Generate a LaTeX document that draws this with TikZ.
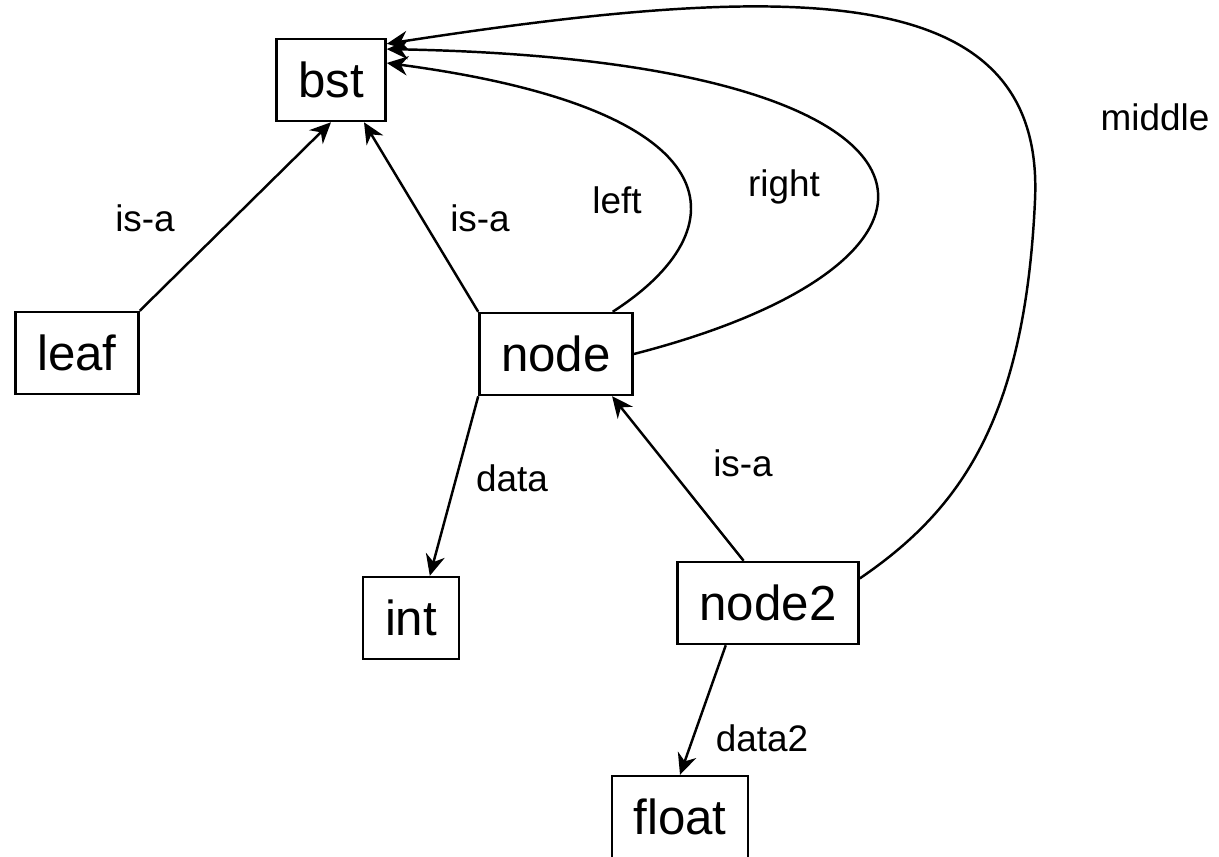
\documentclass[tikz,border=0pt]{standalone}
\usepackage{fontspec}
\setmainfont{Liberation Sans}
\usetikzlibrary{positioning,arrows.meta}

\begin{document}
\begin{tikzpicture}[x=0.01cm, y=-0.01cm,
    box/.style={draw, line width=0.7pt, minimum height=0.82cm, inner sep=0pt, font=\fontsize{14}{16}\selectfont},
    link/.style={draw, line width=0.7pt, -{Stealth[length=6pt, width=5.5pt]}},
    lbl/.style={font=\fontsize{10.5}{12}\selectfont}]

    \useasboundingbox (0,0) rectangle (1219,856);

    % the boxes
    \node[box, minimum width=1.09cm] (bst) at (331,80) {bst};
    \node[box, minimum width=1.23cm] (leaf) at (77,353) {leaf};
    \node[box, minimum width=1.53cm] (node1) at (556,354) {node};
    \node[box, minimum width=0.96cm] (int) at (411,618) {int};
    \node[box, minimum width=1.81cm] (node2) at (768,603) {node2};
    \node[box, minimum width=1.36cm] (float) at (680,817) {float};

    % straight links
    \path[link] (leaf.north east) -- (bst.south);
    \path[link] (node1.north west) -- (bst.-52);
    \path[link] (node1.south west) -- (int.66);
    \path[link] (node2.120) -- (node1.-37);
    \path[link] (node2.-135) -- (float.north);

    % curved links back to bst
    \path[link] ([xshift=-6pt]node1.north east) .. controls (740,230) and (740,110) .. (bst.17);
    \path[link] (node1.east) .. controls (1000,260) and (980,60) .. (bst.29);
    \path[link] (node2.15) .. controls (960,510) and (1025,420) .. (1035,200)
        .. controls (1045,-20) and (800,-20) .. (bst.33);

    % labels
    \node[lbl] (lisa1) at (145,218) {is-a};
    \node[lbl] (lisa2) at (480,218) {is-a};
    \node[lbl] (lleft) at (617,200) {left};
    \node[lbl] (lright) at (784,187) {right};
    \node[lbl] (lmiddle) at (1155,117) {middle};
    \node[lbl] (ldata) at (512,478) {data};
    \node[lbl] (lisa3) at (743,463) {is-a};
    \node[lbl] (ldata2) at (762,738) {data2};

\end{tikzpicture}
\end{document}
